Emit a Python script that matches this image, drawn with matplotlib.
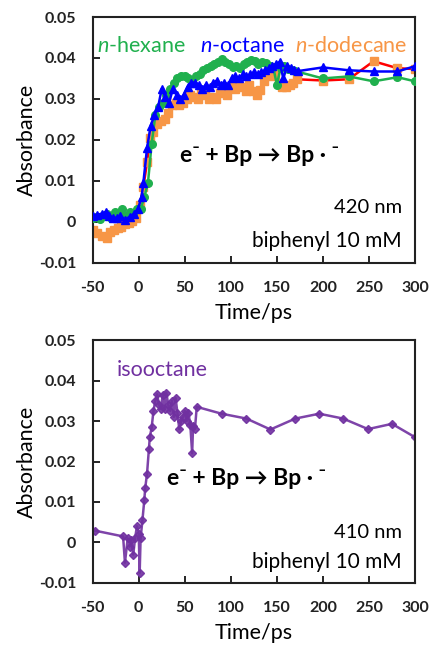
import matplotlib
matplotlib.use("Agg")
import matplotlib.pyplot as plt

plt.rcParams['font.family'] = ['Lato', 'DejaVu Sans']
plt.rcParams['mathtext.fontset'] = 'custom'
plt.rcParams['mathtext.it'] = 'Lato:italic'
plt.rcParams['mathtext.rm'] = 'Lato'

# ---------------- data ----------------
hex_t = [-50, -46, -42, -38, -34, -30, -26, -22, -18, -14, -10, -6, -2, 2, 6, 10, 14, 18, 22, 26,
         30, 34, 38, 42, 46, 50, 54, 58, 62, 66, 70, 74, 78, 82, 86, 90, 94, 98, 102, 106,
         110, 114, 118, 122, 126, 130, 134, 138, 142, 146, 150, 154, 158, 162, 166, 170,
         200, 228, 255, 281, 300]
hex_a = [0.001, 0.0012, 0.0008, 0.0015, 0.002, 0.001, 0.0025, 0.002, 0.003, 0.0015, 0.0025, 0.002,
         0.003, 0.003, 0.006, 0.0095, 0.019, 0.026, 0.028, 0.029, 0.031, 0.0325, 0.034, 0.035,
         0.0355, 0.0355, 0.035, 0.034, 0.0355, 0.036, 0.037, 0.0375, 0.038, 0.0385, 0.039, 0.0398,
         0.039, 0.0385, 0.0378, 0.038, 0.0375, 0.0385, 0.039, 0.0395, 0.0392, 0.0385, 0.039,
         0.0388, 0.038, 0.0378, 0.0335, 0.0375, 0.038, 0.0372, 0.037, 0.0368,
         0.035, 0.0355, 0.0343, 0.0353, 0.0343]

oct_t = [-50, -45, -40, -36, -32, -28, -24, -20, -15, -10, -5, -1, 3, 5, 9, 13, 17, 21, 25, 29,
         33, 37, 41, 45, 49, 53, 57, 61, 65, 69, 73, 77, 81, 85, 89, 93, 97, 101, 105, 109,
         113, 117, 121, 125, 129, 133, 137, 141, 145, 149, 153, 157, 161, 165, 169, 173,
         200, 228, 255, 281, 300]
oct_a = [0.0015, 0.0017, 0.002, 0.0024, 0.0015, 0.001, 0.001, 0.0015, 0.0005, 0.0012, 0.002, 0.003,
         0.006, 0.0095, 0.018, 0.0235, 0.026, 0.028, 0.0325, 0.0305, 0.029, 0.0325, 0.031, 0.030,
         0.031, 0.033, 0.034, 0.034, 0.0335, 0.0325, 0.0335, 0.033, 0.034, 0.0345, 0.0335, 0.034,
         0.0335, 0.035, 0.0355, 0.035, 0.036, 0.0355, 0.036, 0.0365, 0.036, 0.0365, 0.037, 0.0375,
         0.038, 0.0385, 0.039, 0.035, 0.038, 0.0375, 0.037, 0.0368,
         0.0377, 0.037, 0.0367, 0.0367, 0.038]

dod_t = [-50, -45, -40, -35, -31, -27, -23, -19, -15, -11, -7, -3, 1, 5, 9, 12, 16, 20, 24, 28,
         32, 36, 40, 44, 48, 52, 56, 60, 64, 68, 72, 76, 80, 84, 88, 92, 96, 100, 104, 108,
         112, 116, 120, 124, 128, 132, 136, 140, 144, 148, 152, 156, 160, 164, 168, 172,
         200, 228, 255, 281, 300]
dod_a = [-0.002, -0.0028, -0.0035, -0.004, -0.0025, -0.002, -0.0015, -0.0012, -0.0005, -0.0003,
         0.0002, 0.001, 0.004, 0.0085, 0.0145, 0.0205, 0.022, 0.024, 0.0245, 0.025, 0.0265, 0.0285,
         0.029, 0.0285, 0.029, 0.030, 0.031, 0.0305, 0.030, 0.0315, 0.031, 0.030, 0.0305, 0.030,
         0.0315, 0.0325, 0.031, 0.033, 0.0325, 0.0335, 0.033, 0.032, 0.0335, 0.032, 0.031, 0.0323,
         0.0343, 0.036, 0.0355, 0.036, 0.034, 0.033, 0.033, 0.0335, 0.034, 0.0348,
         0.0345, 0.0348, 0.0392, 0.0375, 0.0373]

iso_t = [-47, -17, -15, -12, -10, -8, -6, -4, -2, 0, 1, 2, 4, 6, 7, 9, 11, 12, 14, 16, 18, 20,
         22, 24, 26, 28, 30, 32, 34, 36, 38, 40, 42, 44, 46, 48, 50, 52, 54, 56, 58, 59, 61, 63,
         90, 117, 143, 170, 196, 222, 249, 275, 300]
iso_a = [0.0029, 0.0015, -0.005, 0.001, -0.001, 0.0005, -0.003, 0.001, 0.004, 0.002, -0.0075, 0.001,
         0.0055, 0.0104, 0.0134, 0.017, 0.023, 0.026, 0.0284, 0.0325, 0.035, 0.0366, 0.034, 0.033,
         0.0365, 0.033, 0.037, 0.034, 0.0325, 0.035, 0.031, 0.0357, 0.032, 0.028, 0.030, 0.031,
         0.0325, 0.030, 0.032, 0.029, 0.022, 0.0288, 0.028, 0.0335,
         0.0318, 0.0306, 0.0279, 0.0306, 0.0318, 0.0306, 0.028, 0.0293, 0.026]

x_ticks = [-50, 0, 50, 100, 150, 200, 250, 300]
y_ticks = [-0.01, 0, 0.01, 0.02, 0.03, 0.04, 0.05]
y_ticklabels = ['-0.01', '0', '0.01', '0.02', '0.03', '0.04', '0.05']

GREEN = '#20b04e'
BLUE = '#0000ff'
ORANGE = '#f79646'
RED = '#ff0000'
PURPLE = '#7030a0'

fig = plt.figure(figsize=(4.3, 6.5), dpi=100)
ax1 = fig.add_axes([0.2156, 0.5958, 0.7495, 0.378])
ax2 = fig.add_axes([0.2156, 0.1031, 0.7495, 0.3738])

def style(ax):
    ax.set_xlim(-50, 300)
    ax.set_ylim(-0.01, 0.05)
    ax.set_xticks(x_ticks)
    ax.set_xticklabels([str(v) for v in x_ticks])
    ax.set_yticks(y_ticks)
    ax.set_yticklabels(y_ticklabels)
    ax.tick_params(direction='in', length=5, width=1.2, labelsize=11.5)
    ax.tick_params(axis='x', pad=13)
    ax.tick_params(axis='y', pad=12)
    for lab in ax.get_xticklabels() + ax.get_yticklabels():
        lab.set_fontweight('bold')
        lab.set_color('#222222')
    for s in ax.spines.values():
        s.set_linewidth(1.5)
        s.set_color('#222222')
    ax.set_xlabel('Time/ps', fontsize=15.5, labelpad=6)
    ax.set_ylabel('Absorbance', fontsize=15.5, labelpad=1)

# top panel
ax1.plot(dod_t, dod_a, color=RED, lw=1.8, marker='s', ms=6, mfc=ORANGE, mec=ORANGE, zorder=2)
ax1.plot(hex_t, hex_a, color=GREEN, lw=1.8, marker='o', ms=5.5, mfc=GREEN, mec=GREEN, zorder=3)
ax1.plot(oct_t, oct_a, color=BLUE, lw=1.8, marker='^', ms=5.5, mfc=BLUE, mec=BLUE, zorder=4)
style(ax1)

ax1.text(0.012, 0.884, '$n$-hexane', transform=ax1.transAxes, color=GREEN, fontsize=15.5, ha='left', va='center')
ax1.text(0.333, 0.884, '$n$-octane', transform=ax1.transAxes, color=BLUE, fontsize=15.5, ha='left', va='center')
ax1.text(0.627, 0.884, '$n$-dodecane', transform=ax1.transAxes, color=ORANGE, fontsize=15.5, ha='left', va='center')

ax1.text(0.27, 0.435, 'e\u207b + Bp \u2192 Bp \u00b7 \u207b', transform=ax1.transAxes,
         fontsize=16.5, fontweight='bold', ha='left', va='center')
ax1.text(0.96, 0.225, '420 nm', transform=ax1.transAxes, fontsize=14.5, ha='right', va='center')
ax1.text(0.96, 0.088, 'biphenyl 10 mM', transform=ax1.transAxes, fontsize=15, ha='right', va='center')

# bottom panel
ax2.plot(iso_t, iso_a, color=PURPLE, lw=1.8, marker='D', ms=4.5, mfc=PURPLE, mec=PURPLE, alpha=0.9)
style(ax2)
ax2.text(0.075, 0.878, 'isooctane', transform=ax2.transAxes, color=PURPLE, fontsize=15.5, ha='left', va='center')
ax2.text(0.23, 0.43, 'e\u207b + Bp \u2192 Bp \u00b7 \u207b', transform=ax2.transAxes,
         fontsize=16.5, fontweight='bold', ha='left', va='center')
ax2.text(0.96, 0.208, '410 nm', transform=ax2.transAxes, fontsize=14.5, ha='right', va='center')
ax2.text(0.96, 0.085, 'biphenyl 10 mM', transform=ax2.transAxes, fontsize=15, ha='right', va='center')

fig.savefig('out.png', dpi=100)
